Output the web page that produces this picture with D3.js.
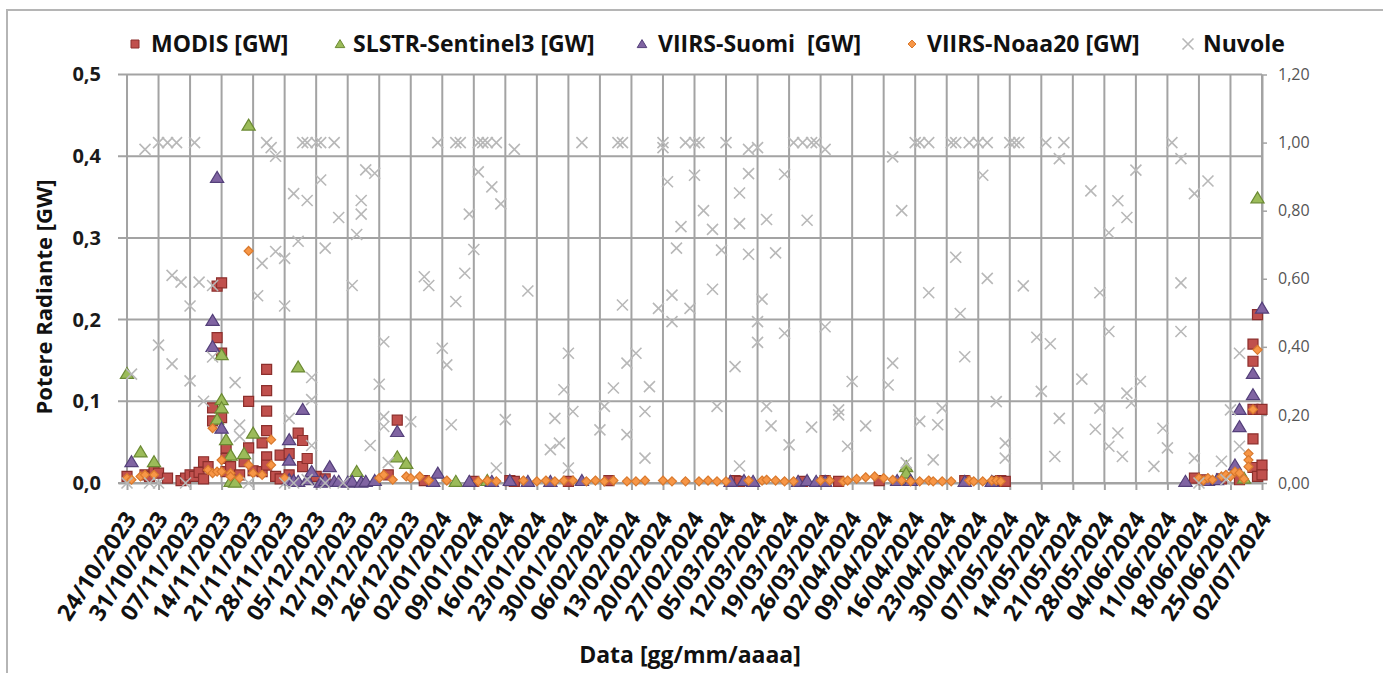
<!DOCTYPE html>
<html>
<head>
<meta charset="utf-8">
<script src="https://cdn.jsdelivr.net/npm/d3@7"></script>
<style>
body { margin: 0; background: #fff; }
svg text { font-family: "Open Sans", sans-serif; }
</style>
</head>
<body>
<div id="chart"></div>
<script>
const width = 1383;
const height = 673;

// Potere radiante [GW] per satellite: [data, valore]
const modis = [
  ["2023-10-24",0.008],["2023-10-28",0.010],["2023-10-29",0.008],["2023-10-30",0.015],["2023-10-31",0.012],
  ["2023-11-02",0.006],["2023-11-05",0.003],["2023-11-06",0.006],["2023-11-07",0.010],["2023-11-08",0.008],
  ["2023-11-09",0.013],["2023-11-10",0.026],["2023-11-10",0.005],["2023-11-11",0.020],["2023-11-12",0.092],
  ["2023-11-12",0.076],["2023-11-13",0.178],["2023-11-13",0.241],["2023-11-14",0.245],["2023-11-14",0.159],
  ["2023-11-14",0.080],["2023-11-15",0.043],["2023-11-15",0.030],["2023-11-15",0.014],["2023-11-16",0.020],
  ["2023-11-18",0.010],["2023-11-19",0.026],["2023-11-20",0.100],["2023-11-20",0.043],["2023-11-21",0.015],
  ["2023-11-23",0.049],["2023-11-23",0.014],["2023-11-24",0.139],["2023-11-24",0.113],["2023-11-24",0.088],
  ["2023-11-24",0.064],["2023-11-24",0.032],["2023-11-24",0.022],["2023-11-26",0.008],["2023-11-27",0.034],
  ["2023-11-27",0.005],["2023-11-29",0.036],["2023-11-29",0.010],["2023-12-01",0.061],["2023-12-02",0.052],
  ["2023-12-02",0.020],["2023-12-03",0.030],["2023-12-05",0.008],["2023-12-07",0.005],["2023-12-21",0.010],
  ["2023-12-23",0.077],["2023-12-29",0.003],["2024-01-09",0.002],["2024-01-17",0.003],["2024-01-18",0.002],
  ["2024-01-30",0.002],["2024-02-08",0.003],["2024-03-07",0.003],["2024-03-08",0.002],["2024-03-22",0.002],
  ["2024-03-27",0.003],["2024-03-30",0.002],["2024-04-08",0.003],["2024-04-27",0.003],["2024-05-04",0.002],
  ["2024-05-05",0.003],["2024-05-06",0.002],["2024-06-17",0.006],["2024-06-19",0.004],["2024-06-23",0.005],
  ["2024-06-27",0.004],["2024-06-30",0.170],["2024-06-30",0.149],["2024-06-30",0.090],["2024-06-30",0.054],
  ["2024-06-30",0.019],["2024-07-01",0.206],["2024-07-01",0.008],["2024-07-02",0.090],["2024-07-02",0.022],
  ["2024-07-02",0.010]
];

const slstr = [
  ["2023-10-24",0.134],["2023-10-27",0.038],["2023-10-30",0.026],["2023-11-13",0.078],["2023-11-14",0.157],
  ["2023-11-14",0.102],["2023-11-14",0.092],["2023-11-15",0.053],["2023-11-16",0.034],["2023-11-16",0.002],
  ["2023-11-17",0.001],["2023-11-19",0.036],["2023-11-20",0.438],["2023-11-21",0.061],["2023-12-01",0.142],
  ["2023-12-14",0.014],["2023-12-23",0.032],["2023-12-25",0.024],["2024-01-05",0.002],["2024-01-12",0.003],
  ["2024-04-14",0.020],["2024-04-14",0.012],["2024-06-28",0.006],["2024-07-01",0.349]
];

const suomi = [
  ["2023-10-25",0.026],["2023-11-12",0.199],["2023-11-12",0.167],["2023-11-13",0.374],["2023-11-14",0.067],
  ["2023-11-29",0.053],["2023-11-29",0.028],["2023-11-29",0.004],["2023-11-30",0.003],["2023-12-01",0.002],
  ["2023-12-02",0.090],["2023-12-03",0.004],["2023-12-04",0.014],["2023-12-06",0.001],["2023-12-07",0.003],
  ["2023-12-08",0.020],["2023-12-09",0.002],["2023-12-10",0.002],["2023-12-12",0.001],["2023-12-13",0.002],
  ["2023-12-15",0.001],["2023-12-16",0.002],["2023-12-18",0.003],["2023-12-23",0.063],["2023-12-31",0.002],
  ["2024-01-01",0.012],["2024-01-08",0.002],["2024-01-13",0.002],["2024-01-17",0.003],["2024-01-21",0.002],
  ["2024-01-26",0.002],["2024-02-02",0.003],["2024-03-06",0.002],["2024-03-09",0.003],["2024-03-11",0.002],
  ["2024-03-21",0.002],["2024-03-23",0.003],["2024-03-25",0.002],["2024-03-27",0.002],["2024-04-12",0.003],
  ["2024-04-15",0.003],["2024-04-27",0.002],["2024-05-03",0.002],["2024-06-15",0.002],["2024-06-20",0.003],
  ["2024-06-22",0.004],["2024-06-26",0.022],["2024-06-27",0.069],["2024-06-27",0.090],["2024-06-30",0.134],
  ["2024-06-30",0.108],["2024-07-02",0.214]
];

const noaa20 = [
  ["2023-10-24",0.006],["2023-10-25",0.004],["2023-10-27",0.008],["2023-10-28",0.010],["2023-10-30",0.010],
  ["2023-11-11",0.016],["2023-11-12",0.067],["2023-11-12",0.012],["2023-11-13",0.014],["2023-11-14",0.028],
  ["2023-11-14",0.014],["2023-11-16",0.012],["2023-11-16",0.008],["2023-11-18",0.006],["2023-11-20",0.284],
  ["2023-11-20",0.022],["2023-11-21",0.012],["2023-11-23",0.010],["2023-11-25",0.053],["2023-11-25",0.022],
  ["2023-11-28",0.006],["2023-12-19",0.006],["2023-12-20",0.010],["2023-12-22",0.004],["2023-12-25",0.008],
  ["2023-12-26",0.006],["2023-12-28",0.008],["2023-12-30",0.003],["2024-01-03",0.003],["2024-01-10",0.002],
  ["2024-01-12",0.003],["2024-01-14",0.002],["2024-01-20",0.003],["2024-01-23",0.002],["2024-01-25",0.003],
  ["2024-01-27",0.002],["2024-01-29",0.003],["2024-01-31",0.003],["2024-02-03",0.002],["2024-02-05",0.003],
  ["2024-02-07",0.002],["2024-02-09",0.003],["2024-02-12",0.002],["2024-02-14",0.002],["2024-02-16",0.003],
  ["2024-02-20",0.003],["2024-02-22",0.002],["2024-02-25",0.002],["2024-02-28",0.002],["2024-03-01",0.003],
  ["2024-03-03",0.002],["2024-03-05",0.002],["2024-03-10",0.003],["2024-03-13",0.003],["2024-03-14",0.004],
  ["2024-03-16",0.003],["2024-03-18",0.002],["2024-03-20",0.002],["2024-03-26",0.003],["2024-03-28",0.003],
  ["2024-03-31",0.002],["2024-04-01",0.003],["2024-04-03",0.005],["2024-04-05",0.007],["2024-04-07",0.008],
  ["2024-04-09",0.006],["2024-04-11",0.004],["2024-04-13",0.003],["2024-04-15",0.002],["2024-04-17",0.002],
  ["2024-04-19",0.003],["2024-04-20",0.002],["2024-04-22",0.002],["2024-04-24",0.002],["2024-04-28",0.003],
  ["2024-04-29",0.002],["2024-05-01",0.002],["2024-05-03",0.003],["2024-05-04",0.003],["2024-05-05",0.002],
  ["2024-06-18",0.006],["2024-06-19",0.003],["2024-06-20",0.006],["2024-06-21",0.004],["2024-06-23",0.008],
  ["2024-06-24",0.010],["2024-06-25",0.008],["2024-06-26",0.014],["2024-06-27",0.012],["2024-06-28",0.005],
  ["2024-06-29",0.036],["2024-06-29",0.028],["2024-06-29",0.020],["2024-06-30",0.090],["2024-07-01",0.163]
];

// Copertura nuvolosa (asse secondario)
const nuvole = [
  ["2023-10-24",0],["2023-10-25",0.32],["2023-10-28",0.98],["2023-10-29",0],["2023-10-31",1],["2023-10-31",0.405],
  ["2023-10-31",0],["2023-11-02",1],["2023-11-03",0.61],["2023-11-03",0.35],["2023-11-04",1],["2023-11-05",0.59],
  ["2023-11-06",0],["2023-11-07",0.52],["2023-11-07",0.30],["2023-11-08",1],["2023-11-09",0.59],["2023-11-10",0.24],
  ["2023-11-12",0.58],["2023-11-12",0.37],["2023-11-17",0.295],["2023-11-18",0.17],["2023-11-18",0.137],["2023-11-20",0],
  ["2023-11-22",0.55],["2023-11-23",0.645],["2023-11-24",1],["2023-11-25",0.985],["2023-11-26",0.96],["2023-11-26",0.68],
  ["2023-11-28",0.66],["2023-11-28",0.52],["2023-11-28",0],["2023-11-29",0.19],["2023-11-30",0.85],["2023-11-30",0],
  ["2023-12-01",0.71],["2023-12-02",1],["2023-12-03",1],["2023-12-03",0.83],["2023-12-03",0.01],["2023-12-04",0.31],
  ["2023-12-04",0.245],["2023-12-04",0.11],["2023-12-05",1],["2023-12-06",1],["2023-12-06",0.89],["2023-12-07",0.69],
  ["2023-12-07",0],["2023-12-09",1],["2023-12-10",0.78],["2023-12-11",0],["2023-12-13",0.58],["2023-12-14",0.73],
  ["2023-12-15",0.83],["2023-12-15",0.79],["2023-12-16",0.92],["2023-12-17",0.11],["2023-12-18",0.91],["2023-12-19",0.29],
  ["2023-12-20",0.415],["2023-12-20",0.195],["2023-12-20",0.166],["2023-12-21",0.06],["2023-12-26",0.18],["2023-12-29",0.606],
  ["2023-12-30",0.58],["2024-01-01",1],["2024-01-02",0.396],["2024-01-03",0.347],["2024-01-04",0.171],["2024-01-05",1],
  ["2024-01-05",0.533],["2024-01-06",1],["2024-01-07",0.616],["2024-01-08",0.79],["2024-01-09",0.686],["2024-01-10",1],
  ["2024-01-10",0.914],["2024-01-11",1],["2024-01-12",1],["2024-01-13",0.87],["2024-01-14",1],["2024-01-14",0.044],
  ["2024-01-15",0.82],["2024-01-16",0.186],["2024-01-18",0.98],["2024-01-21",0.564],["2024-01-26",0.098],["2024-01-27",0.19],
  ["2024-01-28",0.117],["2024-01-29",0.274],["2024-01-30",0.381],["2024-01-30",0.044],["2024-01-31",0.21],["2024-02-02",1],
  ["2024-02-06",0.156],["2024-02-07",0.225],["2024-02-09",0.279],["2024-02-10",1],["2024-02-11",1],["2024-02-11",0.523],
  ["2024-02-12",0.352],["2024-02-12",0.142],["2024-02-14",0.381],["2024-02-16",0.21],["2024-02-16",0.073],["2024-02-17",0.283],
  ["2024-02-19",0.513],["2024-02-20",1],["2024-02-20",0.985],["2024-02-21",0.885],["2024-02-22",0.552],["2024-02-22",0.474],
  ["2024-02-23",0.69],["2024-02-24",0.753],["2024-02-25",1],["2024-02-26",0.513],["2024-02-27",1],["2024-02-27",0.904],
  ["2024-02-28",1],["2024-02-29",0.80],["2024-03-02",0.745],["2024-03-02",0.569],["2024-03-03",0.225],["2024-03-04",0.684],
  ["2024-03-05",1],["2024-03-07",0.342],["2024-03-08",0.852],["2024-03-08",0.762],["2024-03-08",0.05],["2024-03-10",0.98],
  ["2024-03-10",0.909],["2024-03-10",0.672],["2024-03-12",0.985],["2024-03-12",0.474],["2024-03-12",0.413],["2024-03-13",0.54],
  ["2024-03-14",0.774],["2024-03-14",0.225],["2024-03-15",0.168],["2024-03-16",0.676],["2024-03-18",0.907],["2024-03-18",0.44],
  ["2024-03-19",0.112],["2024-03-20",1],["2024-03-22",1],["2024-03-23",0.772],["2024-03-24",1],["2024-03-24",0.164],
  ["2024-03-25",1],["2024-03-27",0.98],["2024-03-27",0.459],["2024-03-30",0.215],["2024-03-30",0.2],["2024-04-01",0.108],
  ["2024-04-02",0.298],["2024-04-05",0.168],["2024-04-10",0.288],["2024-04-11",0.958],["2024-04-11",0.352],["2024-04-13",0.80],
  ["2024-04-14",0.059],["2024-04-16",1],["2024-04-17",1],["2024-04-17",0.181],["2024-04-19",1],["2024-04-19",0.559],
  ["2024-04-20",0.068],["2024-04-21",0.171],["2024-04-22",0.22],["2024-04-24",1],["2024-04-25",1],["2024-04-25",0.663],
  ["2024-04-26",0.498],["2024-04-27",0.371],["2024-04-28",1],["2024-04-30",1],["2024-05-01",0.904],["2024-05-02",1],
  ["2024-05-02",0.601],["2024-05-04",0.239],["2024-05-06",0.117],["2024-05-06",0.073],["2024-05-07",1],["2024-05-08",1],
  ["2024-05-09",1],["2024-05-10",0.579],["2024-05-13",0.428],["2024-05-14",0.269],["2024-05-15",1],["2024-05-16",0.409],
  ["2024-05-17",0.078],["2024-05-18",0.953],["2024-05-18",0.19],["2024-05-19",1],["2024-05-23",0.305],["2024-05-25",0.858],
  ["2024-05-26",0.158],["2024-05-27",0.559],["2024-05-27",0.22],["2024-05-29",0.735],["2024-05-29",0.445],["2024-05-29",0.108],
  ["2024-05-31",0.829],["2024-05-31",0.147],["2024-06-01",0.078],["2024-06-02",0.78],["2024-06-02",0.264],["2024-06-03",0.235],
  ["2024-06-04",0.919],["2024-06-05",0.298],["2024-06-08",0.049],["2024-06-10",0.161],["2024-06-11",0.103],["2024-06-12",1],
  ["2024-06-14",0.953],["2024-06-14",0.588],["2024-06-14",0.445],["2024-06-17",0.85],["2024-06-17",0.073],["2024-06-18",0],
  ["2024-06-20",0.887],["2024-06-23",0.064],["2024-06-24",0.01],["2024-06-25",0.215],["2024-06-27",0.381],["2024-06-27",0.108]
];

const tickLabels = [
  "24/10/2023","31/10/2023","07/11/2023","14/11/2023","21/11/2023","28/11/2023","05/12/2023","12/12/2023",
  "19/12/2023","26/12/2023","02/01/2024","09/01/2024","16/01/2024","23/01/2024","30/01/2024","06/02/2024",
  "13/02/2024","20/02/2024","27/02/2024","05/03/2024","12/03/2024","19/03/2024","26/03/2024","02/04/2024",
  "09/04/2024","16/04/2024","23/04/2024","30/04/2024","07/05/2024","14/05/2024","21/05/2024","28/05/2024",
  "04/06/2024","11/06/2024","18/06/2024","25/06/2024","02/07/2024"
];
const leftTicks = [0, 0.1, 0.2, 0.3, 0.4, 0.5];
const rightTicks = [0, 0.2, 0.4, 0.6, 0.8, 1.0, 1.2];

const parseIso = d3.utcParse("%Y-%m-%d");
const parseLabel = d3.utcParse("%d/%m/%Y");
const tickDates = tickLabels.map(parseLabel);

const svg = d3.select("#chart")
    .append("svg")
    .attr("width", width)
    .attr("height", height);

// cornice esterna
svg.append("path")
    .attr("d", "M7,673V10H1383")
    .attr("fill", "none")
    .attr("stroke", "#b5b5b5")
    .attr("stroke-width", 2);

const x = d3.scaleUtc()
    .domain([parseIso("2023-10-22"), parseIso("2024-07-02")])
    .range([118, 1262]);
const yL = d3.scaleLinear().domain([0, 0.5]).range([483, 74.5]);
const yR = d3.scaleLinear().domain([0, 1.2]).range([483, 74.5]);

const comma = f => d => d3.format(f)(d).replace(".", ",");

// griglia
svg.append("g").selectAll("line")
    .data(leftTicks)
    .enter().append("line")
    .attr("x1", 118).attr("x2", 1262)
    .attr("y1", d => yL(d)).attr("y2", d => yL(d))
    .attr("stroke", "#a3a3a3").attr("stroke-width", 2);

svg.append("g").selectAll("line")
    .data(tickDates)
    .enter().append("line")
    .attr("x1", d => x(d)).attr("x2", d => x(d))
    .attr("y1", 74.5).attr("y2", 483)
    .attr("stroke", "#a3a3a3").attr("stroke-width", 2);

// asse X
const xAxis = svg.append("g")
    .attr("transform", "translate(0,483)")
    .call(d3.axisBottom(x).tickValues(tickDates).tickFormat(d3.utcFormat("%d/%m/%Y")).tickSize(7).tickSizeOuter(0));
xAxis.select(".domain").attr("stroke", "#a3a3a3").attr("stroke-width", 2);
xAxis.selectAll(".tick line").attr("stroke", "#a3a3a3").attr("stroke-width", 2);
xAxis.selectAll(".tick text")
    .attr("y", 0).attr("dy", "0.35em")
    .attr("transform", "translate(3,31) rotate(-57)")
    .style("text-anchor", "end")
    .style("font-size", "23px")
    .style("font-weight", "bold")
    .style("fill", "#111");

// asse Y sinistro
const yAxisL = svg.append("g")
    .attr("transform", "translate(118,0)")
    .call(d3.axisLeft(yL).tickValues(leftTicks).tickFormat(comma(".1f")).tickSize(0).tickPadding(17));
yAxisL.select(".domain").remove();
yAxisL.selectAll(".tick text")
    .style("font-size", "20px")
    .style("font-weight", "bold")
    .style("fill", "#1a1a1a");

// asse Y destro (nuvole)
const yAxisR = svg.append("g")
    .attr("transform", "translate(1262,0)")
    .call(d3.axisRight(yR).tickValues(rightTicks).tickFormat(comma(".2f")).tickSize(5).tickSizeOuter(0).tickPadding(11));
yAxisR.select(".domain").attr("stroke", "#a3a3a3").attr("stroke-width", 2);
yAxisR.selectAll(".tick line").attr("stroke", "#a3a3a3").attr("stroke-width", 1.5);
yAxisR.selectAll(".tick text")
    .style("font-size", "16px")
    .style("fill", "#555");

// titoli assi
svg.append("text")
    .attr("transform", "translate(52,297) rotate(-90)")
    .attr("text-anchor", "middle")
    .style("font-size", "22px")
    .style("font-weight", "bold")
    .style("fill", "#111")
    .text("Potere Radiante [GW]");

svg.append("text")
    .attr("x", 690).attr("y", 663)
    .attr("text-anchor", "middle")
    .style("font-size", "23px")
    .style("font-weight", "bold")
    .style("fill", "#111")
    .text("Data [gg/mm/aaaa]");

// forme dei marcatori
const shapes = {
    square: s => `M${-s/2},${-s/2}h${s}v${s}h${-s}Z`,
    triangle: s => `M0,${-s*0.55}L${s*0.6},${s*0.45}L${-s*0.6},${s*0.45}Z`,
    diamond: s => `M0,${-s/2}L${s/2},0L0,${s/2}L${-s/2},0Z`,
    cross: s => `M${-s/2},${-s/2}L${s/2},${s/2}M${-s/2},${s/2}L${s/2},${-s/2}`
};

const series = [
    { name: "MODIS [GW]", data: modis, shape: "square", size: 10, fill: "#c0504d", stroke: "#8c2f2c", y: yL, lx: 135, tx: 151 },
    { name: "SLSTR-Sentinel3 [GW]", data: slstr, shape: "triangle", size: 11, fill: "#9bbb59", stroke: "#6b8a33", y: yL, lx: 340, tx: 353 },
    { name: "VIIRS-Suomi  [GW]", data: suomi, shape: "triangle", size: 11, fill: "#8064a2", stroke: "#54407a", y: yL, lx: 642, tx: 658 },
    { name: "VIIRS-Noaa20 [GW]", data: noaa20, shape: "diamond", size: 9, fill: "#f79646", stroke: "#d9792d", y: yL, lx: 912, tx: 927 },
    { name: "Nuvole", data: nuvole, shape: "cross", size: 11, fill: "none", stroke: "#b8b8b8", y: yR, lx: 1188, tx: 1203 }
];

series.forEach(s => {
    svg.append("g").selectAll("path")
        .data(s.data)
        .enter().append("path")
        .attr("transform", d => `translate(${x(parseIso(d[0]))},${s.y(d[1])})`)
        .attr("d", shapes[s.shape](s.size))
        .attr("fill", s.fill)
        .attr("stroke", s.stroke)
        .attr("stroke-width", s.shape === "cross" ? 1.6 : 1.2);
});

// legenda
const legend = svg.append("g");
series.forEach(s => {
    legend.append("path")
        .attr("transform", `translate(${s.lx},44)`)
        .attr("d", shapes[s.shape](s.shape === "cross" ? 11 : 8))
        .attr("fill", s.fill)
        .attr("stroke", s.stroke)
        .attr("stroke-width", s.shape === "cross" ? 1.6 : 1);
    legend.append("text")
        .attr("x", s.tx).attr("y", 52)
        .attr("xml:space", "preserve")
        .style("white-space", "pre")
        .style("font-size", "23px")
        .style("font-weight", "bold")
        .style("fill", "#111")
        .text(s.name);
});
</script>
</body>
</html>
